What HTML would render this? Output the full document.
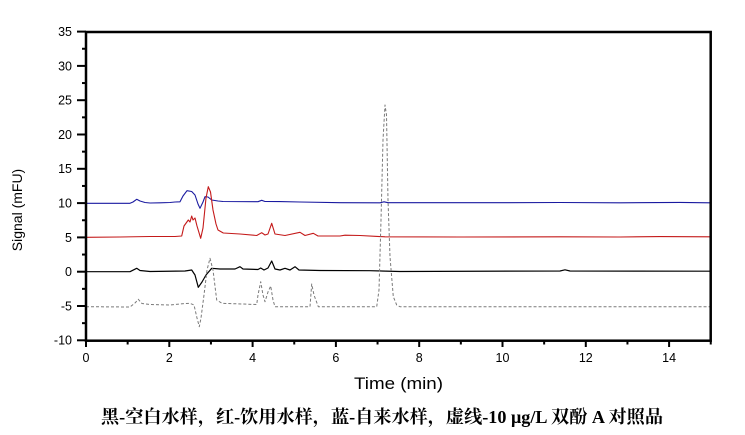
<!DOCTYPE html>
<html><head><meta charset="utf-8"><style>
html,body{margin:0;padding:0;background:#fff;}
svg{display:block;}
</style></head><body>
<svg width="745" height="435" viewBox="0 0 745 435" xmlns="http://www.w3.org/2000/svg">
<rect width="745" height="435" fill="#fff"/>
<!-- series -->
<g fill="none" stroke-linejoin="round">
<path stroke="#1a1aa0" stroke-width="1.1" d="M86,203.3 L130,203.3 L133,202 L136.7,199.3 L140,201 L145,202.5 L150,203 L160,202.8 L170,202.5 L175,202 L180,201.8 L183,196 L187,190.7 L191.7,191.5 L195,195 L198,204 L200,208.3 L203,202 L205,196.7 L208,197 L211.7,200 L218,201 L223,201.5 L258,201.7 L261.7,200.3 L265,201.5 L280,201.6 L300,202 L340,202.7 L380,202.8 L384,201.8 L388,202.7 L500,202.7 L560,202.5 L620,202.8 L680,202.4 L710,202.8"/>
<path stroke="#c41a1a" stroke-width="1.1" d="M86,237.3 L120,237 L150,236.5 L175,236.5 L181.7,236 L184,226 L188.3,220 L190,222 L191.7,216 L193,220 L195,218 L197,226 L200.7,238.3 L203,228 L206,198 L208.3,186.7 L210.5,192 L213,210 L216,224 L218,230 L223.3,233 L240,234 L256.7,235.5 L261.7,232.7 L265,235 L268,234 L271.7,223.3 L275,234 L285,235.5 L300,232.3 L305,235.5 L313.3,233.3 L318,236 L340,236 L345,235.2 L360,235.5 L375,236.3 L385,236.8 L460,237 L560,236.8 L620,237 L660,236.6 L710,236.8"/>
<path stroke="#000" stroke-width="1.2" d="M86,271.7 L130,271.7 L136.7,268.3 L140,270.5 L150,271.5 L185,271 L191.7,270 L195,275 L198.3,287.3 L202,282 L206,275 L211.7,268.3 L220,269 L235,269 L240,266.7 L243,269 L258,269.5 L260.7,268 L264,270 L268,268 L271.7,261 L275,269 L280,270 L285,268.3 L290,270 L295,266.7 L299,270 L320,270.5 L370,270.7 L400,271.5 L560,271 L565,269.8 L570,271 L710,271.2"/>
<path stroke="#7a7a7a" stroke-width="1" stroke-dasharray="3,2" d="M86,306.7 L130,307 L135,303 L138.3,299.3 L142,303.5 L150,304.5 L170,305 L185,303.5 L190,303.3 L194,305 L197,318 L199.3,326.7 L201,318 L204,295 L207,270 L210,258.3 L213,270 L216.7,300 L222,303.3 L256.7,304.5 L258,295 L260.7,281.7 L263,295 L265,301.7 L268,292 L270.7,286 L273,300 L275,306.7 L310,306.7 L311.7,284 L314,295 L318.3,306.7 L376.7,306.7 L379,290 L381,220 L383,140 L385,105 L386.5,115 L388,200 L390,256.7 L393.3,296.7 L396.7,305 L400,306.7 L710,306.7"/>
</g>
<!-- frame -->
<rect x="86" y="32" width="624.7" height="308.7" fill="none" stroke="#000" stroke-width="2.5"/>
<!-- y ticks -->
<g stroke="#000" stroke-width="2">
<line x1="77" y1="31.6" x2="86" y2="31.6"/>
<line x1="77" y1="65.9" x2="86" y2="65.9"/>
<line x1="77" y1="100.2" x2="86" y2="100.2"/>
<line x1="77" y1="134.5" x2="86" y2="134.5"/>
<line x1="77" y1="168.8" x2="86" y2="168.8"/>
<line x1="77" y1="203.1" x2="86" y2="203.1"/>
<line x1="77" y1="237.4" x2="86" y2="237.4"/>
<line x1="77" y1="271.7" x2="86" y2="271.7"/>
<line x1="77" y1="306" x2="86" y2="306"/>
<line x1="77" y1="340.3" x2="86" y2="340.3"/>
<line x1="82" y1="48.75" x2="86" y2="48.75"/>
<line x1="82" y1="83.05" x2="86" y2="83.05"/>
<line x1="82" y1="117.35" x2="86" y2="117.35"/>
<line x1="82" y1="151.65" x2="86" y2="151.65"/>
<line x1="82" y1="185.95" x2="86" y2="185.95"/>
<line x1="82" y1="220.25" x2="86" y2="220.25"/>
<line x1="82" y1="254.55" x2="86" y2="254.55"/>
<line x1="82" y1="288.85" x2="86" y2="288.85"/>
<line x1="82" y1="323.15" x2="86" y2="323.15"/>
</g>
<!-- x ticks -->
<g stroke="#000" stroke-width="2">
<line x1="86" y1="340" x2="86" y2="347"/>
<line x1="169.3" y1="340" x2="169.3" y2="347"/>
<line x1="252.6" y1="340" x2="252.6" y2="347"/>
<line x1="335.9" y1="340" x2="335.9" y2="347"/>
<line x1="419.2" y1="340" x2="419.2" y2="347"/>
<line x1="502.5" y1="340" x2="502.5" y2="347"/>
<line x1="585.8" y1="340" x2="585.8" y2="347"/>
<line x1="669.1" y1="340" x2="669.1" y2="347"/>
<line x1="127.65" y1="340" x2="127.65" y2="344.5"/>
<line x1="210.95" y1="340" x2="210.95" y2="344.5"/>
<line x1="294.25" y1="340" x2="294.25" y2="344.5"/>
<line x1="377.55" y1="340" x2="377.55" y2="344.5"/>
<line x1="460.85" y1="340" x2="460.85" y2="344.5"/>
<line x1="544.15" y1="340" x2="544.15" y2="344.5"/>
<line x1="627.45" y1="340" x2="627.45" y2="344.5"/>
<line x1="710.75" y1="340" x2="710.75" y2="344.5"/>
</g>
<!-- y labels -->
<g font-family="'Liberation Sans', Arial, sans-serif" font-size="12.5" fill="#000" text-anchor="end">
<text x="72" y="36">35</text>
<text x="72" y="70.3">30</text>
<text x="72" y="104.6">25</text>
<text x="72" y="138.9">20</text>
<text x="72" y="173.2">15</text>
<text x="72" y="207.5">10</text>
<text x="72" y="241.8">5</text>
<text x="72" y="276.1">0</text>
<text x="72" y="310.4">-5</text>
<text x="72" y="344.7">-10</text>
</g>
<!-- x labels -->
<g font-family="'Liberation Sans', Arial, sans-serif" font-size="12.5" fill="#000" text-anchor="middle">
<text x="86" y="362">0</text>
<text x="169.3" y="362">2</text>
<text x="252.6" y="362">4</text>
<text x="335.9" y="362">6</text>
<text x="419.2" y="362">8</text>
<text x="502.5" y="362">10</text>
<text x="585.8" y="362">12</text>
<text x="669.1" y="362">14</text>
</g>
<text x="354" y="389" font-family="'Liberation Sans', Arial, sans-serif" font-size="17" textLength="89" lengthAdjust="spacingAndGlyphs" fill="#000">Time (min)</text>
<text transform="translate(22,210) rotate(-90)" text-anchor="middle" font-family="'Liberation Sans', Arial, sans-serif" font-size="14" fill="#000">Signal (mFU)</text>
<text x="101" y="423" font-family="'Liberation Serif', 'Noto Serif CJK SC', serif" font-weight="bold" font-size="18" textLength="562" lengthAdjust="spacingAndGlyphs" fill="#000">黑-空白水样，红-饮用水样，蓝-自来水样，虚线-10 μg/L 双酚 A 对照品</text>
</svg>
</body></html>
